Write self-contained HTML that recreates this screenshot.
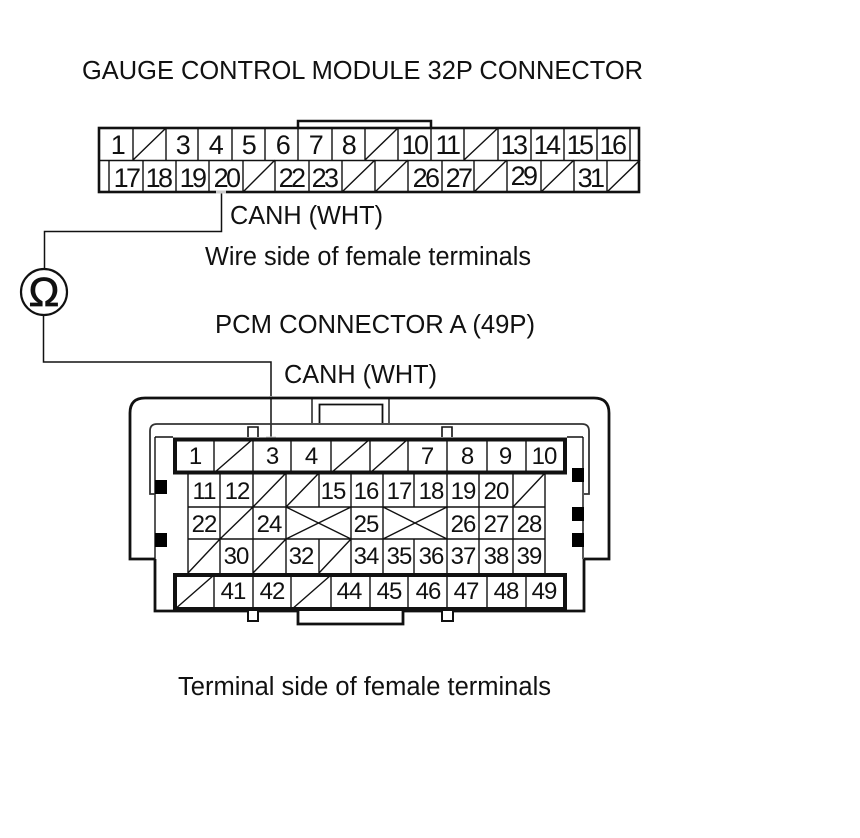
<!DOCTYPE html>
<html><head><meta charset="utf-8"><style>
html,body{margin:0;padding:0;background:#fff}
svg{display:block}
text{font-family:"Liberation Sans",sans-serif;fill:#111}
.t{font-size:27px;text-anchor:middle;letter-spacing:-2.6px}
.p{font-size:24px;text-anchor:middle;letter-spacing:-1px}
.l{font-size:25.5px}
.k{stroke:#111;fill:none}
</style></head><body>
<svg width="860" height="838" viewBox="0 0 860 838" xmlns="http://www.w3.org/2000/svg">
<rect width="860" height="838" fill="#fff"/>
<text class="l" x="82" y="79" textLength="561" lengthAdjust="spacingAndGlyphs">GAUGE CONTROL MODULE 32P CONNECTOR</text>
<text class="l" x="230" y="224" textLength="153" lengthAdjust="spacingAndGlyphs">CANH (WHT)</text>
<text class="l" x="205" y="265" textLength="326" lengthAdjust="spacingAndGlyphs">Wire side of female terminals</text>
<text class="l" x="215" y="333" textLength="320" lengthAdjust="spacingAndGlyphs">PCM CONNECTOR A (49P)</text>
<text class="l" x="284" y="383" textLength="153" lengthAdjust="spacingAndGlyphs">CANH (WHT)</text>
<text class="l" x="178" y="695" textLength="373" lengthAdjust="spacingAndGlyphs">Terminal side of female terminals</text>

<!-- top connector -->
<path class="k" stroke-width="2.5" d="M298 128V121H431V128"/>
<path class="k" stroke-width="1.4" d="M133 128V160M166 128V160M198 128V160M232 128V160M265 128V160M298 128V160M332 128V160M365 128V160M398 128V160M431 128V160M464 128V160M498 128V160M531 128V160M564 128V160M597 128V160M630 128V160
M109 160V192M143 160V192M176 160V192M209 160V192M243 160V192M275 160V192M309 160V192M342 160V192M375 160V192M408 160V192M442 160V192M474 160V192M507 160V192M541 160V192M574 160V192M607 160V192
M99 160.5H640
M133 160L166 128M365 160L398 128M464 160L498 128M243 192L275 160M342 192L375 160M375 192L408 160M474 192L507 160M541 192L574 160M607 192L640 160"/>
<rect class="k" x="99" y="128" width="540" height="64" stroke-width="2.6"/>
<g>
<text class="t" x="117" y="154">1</text><text class="t" x="182" y="154">3</text><text class="t" x="215" y="154">4</text><text class="t" x="248" y="154">5</text><text class="t" x="282" y="154">6</text><text class="t" x="315" y="154">7</text><text class="t" x="348" y="154">8</text><text class="t" x="414" y="154">10</text><text class="t" x="447" y="154">11</text><text class="t" x="513" y="154">13</text><text class="t" x="546" y="154">14</text><text class="t" x="579" y="154">15</text><text class="t" x="612" y="154">16</text>
<text class="t" x="126" y="187">17</text><text class="t" x="158" y="187">18</text><text class="t" x="192" y="187">19</text><text class="t" x="226" y="187">20</text><text class="t" x="291" y="187">22</text><text class="t" x="324" y="187">23</text><text class="t" x="425" y="187">26</text><text class="t" x="458" y="187">27</text><text class="t" x="523" y="185">29</text><text class="t" x="590" y="187">31</text>
</g>

<!-- wires -->
<path class="k" stroke-width="1.5" d="M221.500 192V231.500H44.500V270M43.500 315V362H271V438"/>
<circle class="k" cx="44" cy="292" r="23" stroke-width="2.2"/>
<text x="44" y="306" font-size="41" text-anchor="middle" stroke="#111" stroke-width="0.8">Ω</text>
<path stroke="#ccc" stroke-width="3" d="M216 192H226M266 438H276M271 396V399"/>

<!-- lower connector shell -->
<path class="k" stroke-width="2.8" d="M155 559H130V413Q130 398 145 398H594Q609 398 609 413V559H584"/>
<path class="k" stroke-width="2.8" d="M155 559V611H584V559"/>
<path class="k" stroke-width="1.4" d="M155 437V559M583 437V559"/>
<path class="k" stroke-width="1.4" d="M312 398V423M389 398V423"/>
<path class="k" stroke-width="1.800" d="M319.500 423V404.500H382.500V423"/>
<path d="M155 494H150V431Q150 424 157 424H582Q589 424 589 431V494H584" fill="none" stroke="#333" stroke-width="1.800"/>
<path class="k" stroke-width="1.4" d="M155 437H173M567 437H583"/>
<path fill="#fff" stroke="#111" stroke-width="1.6" d="M248 437V427H258V437M442 437V427H452V437"/>
<path fill="#fff" stroke="#111" stroke-width="2" d="M248 611V621H258V611M442 611V621H453V611"/>
<path fill="#fff" stroke="#111" stroke-width="2.800" d="M298 611V624H403V611"/>

<!-- black keys -->
<g fill="#000">
<rect x="155" y="480" width="12" height="14"/><rect x="155" y="533" width="12" height="14"/>
<rect x="572" y="468" width="12" height="14"/><rect x="572" y="507" width="12" height="14"/><rect x="572" y="533" width="12" height="14"/>
</g>

<!-- middle grid -->
<path class="k" stroke-width="1.4" d="M188 473V573M220 473V573M253 473V573M286 473V573M319 473V507M319 539V573M351 473V573M383 473V573M414 473V507M414 539V573M447 473V573M479 473V573M513 473V573M545 473V573
M188 507H545M188 539H545
M253 507L286 473M286 507L319 473M513 507L545 473M220 539L253 507M188 573L220 539M253 573L286 539M319 573L351 539
M286 507L351 539M286 539L351 507M383 507L447 539M383 539L447 507"/>

<!-- plug rows -->
<path class="k" stroke-width="1.4" d="M214 439V473M253 439V473M291 439V473M331 439V473M370 439V473M408 439V473M447 439V473M487 439V473M526 439V473
M214 575V610M253 575V610M291 575V610M331 575V610M370 575V610M408 575V610M447 575V610M487 575V610M526 575V610
M214 473L253 439M331 473L370 439M370 473L408 439M174 610L214 575M291 610L331 575"/>
<rect class="k" x="175" y="439.500" width="390" height="33" stroke-width="4"/>
<rect class="k" x="175" y="575" width="390" height="34" stroke-width="4"/>

<text class="p" x="195" y="464">1</text><text class="p" x="272" y="464">3</text><text class="p" x="311" y="464">4</text><text class="p" x="427" y="464">7</text><text class="p" x="467" y="464">8</text><text class="p" x="505" y="464">9</text><text class="p" x="544" y="464">10</text>
<text class="p" x="204" y="499">11</text><text class="p" x="237" y="499">12</text><text class="p" x="333" y="499">15</text><text class="p" x="366" y="499">16</text><text class="p" x="399" y="499">17</text><text class="p" x="431" y="499">18</text><text class="p" x="463" y="499">19</text><text class="p" x="496" y="499">20</text>
<text class="p" x="204" y="532">22</text><text class="p" x="269" y="532">24</text><text class="p" x="366" y="532">25</text><text class="p" x="463" y="532">26</text><text class="p" x="496" y="532">27</text><text class="p" x="529" y="532">28</text>
<text class="p" x="236" y="564">30</text><text class="p" x="301" y="564">32</text><text class="p" x="366" y="564">34</text><text class="p" x="399" y="564">35</text><text class="p" x="431" y="564">36</text><text class="p" x="463" y="564">37</text><text class="p" x="496" y="564">38</text><text class="p" x="529" y="564">39</text>
<text class="p" x="233" y="599">41</text><text class="p" x="272" y="599">42</text><text class="p" x="349" y="599">44</text><text class="p" x="389" y="599">45</text><text class="p" x="428" y="599">46</text><text class="p" x="466" y="599">47</text><text class="p" x="506" y="599">48</text><text class="p" x="544" y="599">49</text>
</svg>
</body></html>
